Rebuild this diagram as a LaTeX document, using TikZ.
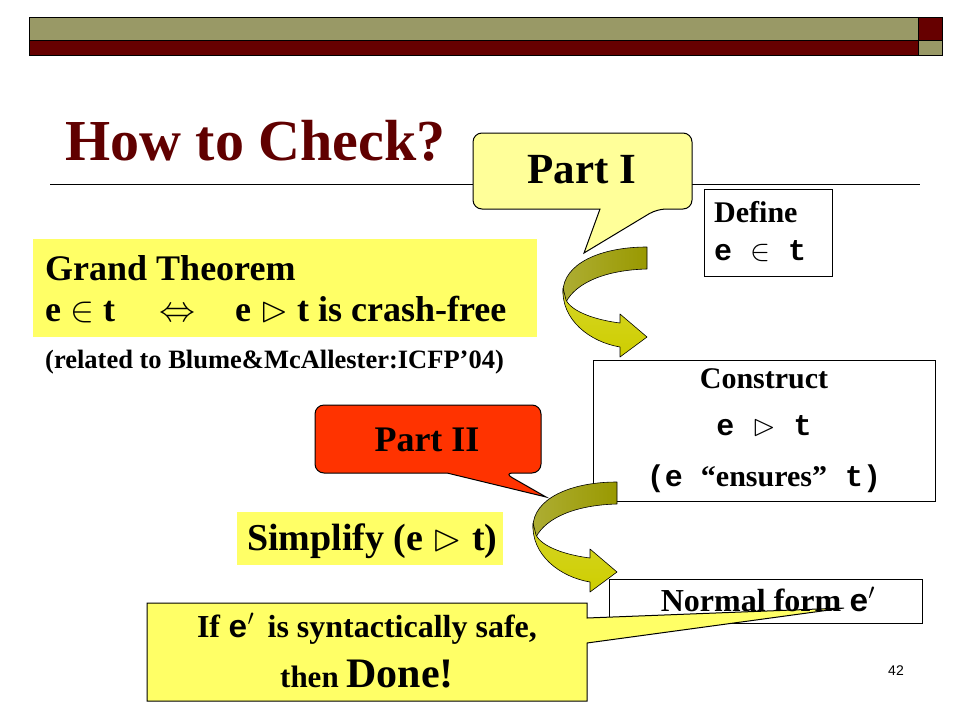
\RequirePackage{fix-cm}
\documentclass[tikz,border=0pt]{standalone}
\usepackage{fontspec}
\setmainfont{Liberation Serif}
\setsansfont{Liberation Sans}
\setmonofont{Liberation Mono}
\usepackage{amssymb}
\usepackage{xcolor}
\definecolor{Olive}{RGB}{153,153,102}
\definecolor{Maroon}{RGB}{102,0,0}
\definecolor{TitleCol}{RGB}{96,0,0}
\definecolor{YelBox}{RGB}{255,255,102}
\definecolor{YelPale}{RGB}{255,255,153}
\definecolor{RedCall}{RGB}{255,51,0}
\definecolor{RibDark}{RGB}{153,153,0}
\definecolor{RibLight}{RGB}{206,206,0}
\usepackage{tikz}
\usetikzlibrary{positioning}
\newcommand{\Fsz}[1]{\fontsize{#1}{#1}\selectfont}
\tikzstyle{BoxY}=[fill=YelBox,inner sep=0pt,anchor=north west]
\tikzstyle{BoxW}=[draw=black,fill=white,line width=1pt,inner sep=0pt,
anchor=north west]
\tikzstyle{Call}=[draw=black,line width=1pt,rounded corners=9pt]
\tikzstyle{Rib}=[draw=black,line width=0.6pt,line join=round]
\tikzstyle{Txt}=[inner sep=0pt,anchor=base west]

\begin{document}
\begin{tikzpicture}[x=1pt,y=-1pt]
    \useasboundingbox (0,0) rectangle (960,720);
    % header bar
    \draw[fill=Olive] (29,17) rectangle (918,40);
    \draw[fill=Maroon] (918,17) rectangle (942,40);
    \draw[fill=Maroon] (29,40) rectangle (918,55);
    \draw[fill=Olive] (918,40) rectangle (942,55);
    \node[Txt,text=TitleCol,font=\bfseries\Fsz{58}](Title)at(65,160){How to Check?};
    \draw[line width=0.8pt] (50,184) -- (920,184);
    % theorem
    \node[BoxY,minimum width=504pt,minimum height=98pt](Grand)at(33,239){};
    \node[Txt,font=\bfseries\Fsz{36}](GrandA)at(45,280){Grand Theorem};
    \node[Txt,font=\bfseries\Fsz{36}](GrandB)at(45,321){e $\in$ t\hspace{44pt}$\Leftrightarrow$\hspace{40pt}e $\rhd$ t is crash-free};
    \node[Txt,font=\bfseries\Fsz{26.5}](Related)at(45,368){(related to Blume\&McAllester:ICFP’04)};
    % part I
    \draw[Call,fill=YelPale] (473,170) -- (473,133) -- (692,133) -- (692,209) -- (657,209)
        [sharp corners] -- (584,253) -- (600,209) [rounded corners=9pt] -- (473,209) -- cycle;
    \node[Txt,anchor=base,font=\bfseries\Fsz{43}](PartI)at(582,183){Part I};
    \node[BoxW,minimum width=128pt,minimum height=87pt](Define)at(704,189){};
    \node[Txt,font=\bfseries\Fsz{30}](DefineA)at(714,222){Define};
    \node[Txt,font=\ttfamily\bfseries\Fsz{30}](DefineB)at(714,260){e $\in$ t};
    \node[BoxW,minimum width=342pt,minimum height=141pt](Construct)at(593,360){};
    \node[Txt,anchor=base,font=\bfseries\Fsz{30}](ConsA)at(764,388){Construct};
    \node[Txt,anchor=base,font=\ttfamily\bfseries\Fsz{30}](ConsB)at(764,435){e $\rhd$ t};
    \node[Txt,anchor=base,font=\bfseries\Fsz{30}](ConsC)at(764,486){\texttt{(e }“ensures”\texttt{ t)}};
    % part II
    \draw[Call,fill=RedCall] (315,440) -- (315,405) -- (541,405) -- (541,473) -- (504,473)
        [sharp corners] -- (546,497) -- (447,473) [rounded corners=9pt] -- (315,473) -- cycle;
    \node[Txt,anchor=base,font=\bfseries\Fsz{36}](PartII)at(427,451){Part II};
    \node[BoxY,minimum width=266pt,minimum height=53pt](Simplify)at(237,512){};
    \node[Txt,font=\bfseries\Fsz{38}](SimpText)at(247,550){Simplify (e $\rhd$ t)};
    \node[BoxW,minimum width=313pt,minimum height=44pt](Normal)at(609,579){};
    % done
    \draw[line width=1pt,fill=YelBox] (147,603) -- (587,603) -- (587,618) -- (844,608)
        -- (587,643) -- (587,701) -- (147,701) -- cycle;
    \node[Txt,anchor=base,font=\bfseries\Fsz{32}](NormText)at(768,611){Normal form \texttt{e}$^{\prime}$};
    \node[Txt,anchor=base,font=\bfseries\Fsz{32}](DoneA)at(367,637){If \texttt{e}$^{\prime}$\, is syntactically safe,};
    \node[Txt,anchor=base,font=\bfseries\Fsz{31}](DoneB)at(367,687){then {\Fsz{42}Done!}};
    \node[Txt,anchor=base,font=\sffamily\Fsz{14}](PageNo)at(896,675){42};
    % curled arrows
    \foreach \sx/\sy in {0/0,-30/235}{
    \begin{scope}[shift={(\sx,\sy)}]
        \draw[Rib,left color=RibDark!80!white,right color=RibDark]
            (647,247) .. controls (600,247) and (563,264) .. (563,292)
            -- (566,302) .. controls (576,283) and (605,270) .. (647,269) -- cycle;
        \draw[Rib,top color=RibLight!85!white,bottom color=RibLight]
            (563,288) .. controls (561,320) and (590,342) .. (620,347)
            -- (620,357) -- (647,337) -- (620,314) -- (620,323)
            .. controls (596,320) and (572,312) .. (566,300) -- cycle;
    \end{scope}}
\end{tikzpicture}
\end{document}
